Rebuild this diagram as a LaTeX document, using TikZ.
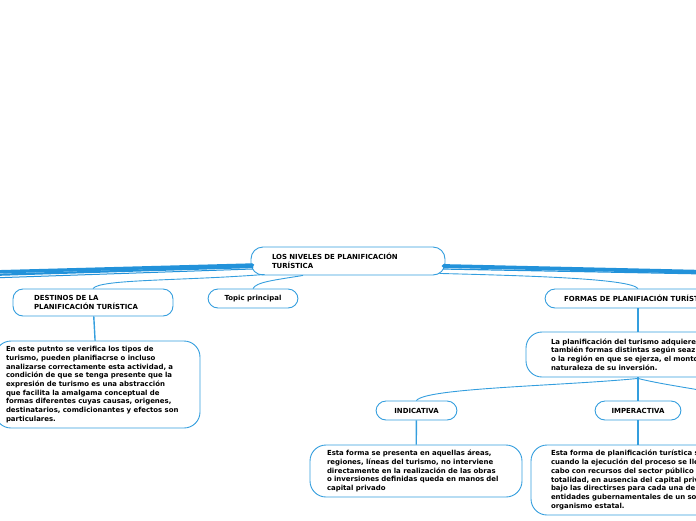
\documentclass[tikz,border=0pt]{standalone}
\usepackage{fontspec}
\setmainfont{DejaVu Sans}
\usetikzlibrary{calc}

\definecolor{mapblue}{RGB}{52,158,222}
\definecolor{trunkblue}{RGB}{34,146,218}

\begin{document}
\begin{tikzpicture}[
    x=1pt, y=-1pt,
    every node/.style={font=\bfseries\fontsize{6.95}{8.7}\selectfont},
    topic/.style={draw=mapblue, line width=0.9pt, fill=white, rounded corners=10pt, inner ysep=0pt, minimum height=19},
    note/.style={topic, rounded corners=16pt, align=left},
    link/.style={draw=mapblue, line width=0.9pt},
    drop/.style={draw=mapblue, line width=1.4pt},
    trunk/.style={draw=trunkblue, line cap=round}
]
\useasboundingbox (0,0) rectangle (696,520);
\clip (0,0) rectangle (696,520);

% ============ OFF-PAGE ENDS ============
\coordinate (offL1) at (-10,272);
\coordinate (offL2) at (-10,275);
\coordinate (offL3) at (-10,278);
\coordinate (offR1) at (710,272);
\coordinate (offR2) at (710,274);
\coordinate (offR3) at (710,392);

% ============ CENTRAL TOPIC ============
\node[topic, rounded corners=12pt, minimum height=28, text width=152, inner xsep=21, align=left] (center) at (348,261)
    {LOS NIVELES DE PLANIFICACIÓN\\TURÍSTICA};

% Trunks to the hidden topics
\draw[trunk, line width=3.4pt] ($(center.west)+(2,4)$) -- (offL1);
\draw[trunk, line width=2.2pt] ($(center.west)+(2,6)$) -- (offL2);
\draw[trunk, line width=1pt] ($(center.west)+(2,8)$) -- (offL3);
\draw[trunk, line width=3.8pt] ($(center.east)+(-2,5)$) -- (offR1);
\draw[trunk, line width=1.2pt] ($(center.east)+(-2,8)$) -- (offR2);

% ============ MAIN BRANCHES ============
\node[topic, text width=118, inner xsep=21, minimum height=27, align=left] (dest) at (93,302.5)
    {DESTINOS DE LA\\PLANIFICACIÓN TURÍSTICA};
\node[topic, minimum width=90] (main) at (253,298.5) {Topic principal};
\node[topic, minimum width=186] (formas) at (638,298.5) {FORMAS DE PLANIFIACIÓN TURÍSTICA};

\draw[link] ($(center.south west)+(14,-1)$) .. controls (180,281) and (100,279) .. (dest.north);
\draw[link] ($(center.south)+(-45,0)$) .. controls (275,280) and (256,282) .. (main.north);
\draw[link] ($(center.south east)+(-6,-2)$) .. controls (540,276) and (630,279) .. (formas.north);

% ============ DESCRIPTIONS ============
\node[note, text width=183, inner xsep=11, minimum height=87] (destnote) at (97.5,384.5)
    {En este putnto se verifica los tipos de\\
     turismo, pueden planifiacrse o incluso\\
     analizarse correctamente esta actividad, a\\
     condición de que se tenga presente que la\\
     expresión de turismo es una abstracción\\
     que facilita la amalgama conceptual de\\
     formas diferentes cuyas causas, origenes,\\
     destinatarios, comdicionantes y efectos son\\
     particulares.};
\draw[drop] (dest) -- (destnote);

\node[note, text width=200, inner xsep=25, minimum height=45] (formasnote) at (651,354.5)
    {La planificación del turismo adquiere\\
     también formas distintas según seaz\\
     o la región  en que se ejerza, el monto\\
     naturaleza de su inversión.};
\draw[drop] (formas) -- (formas |- formasnote.north);

% ============ FORMS ============
\node[topic, minimum width=81] (indic) at (416.5,410.5) {INDICATIVA};
\node[topic, minimum width=86] (imper) at (638,410.5) {IMPERACTIVA};

\draw[link] ($(formas |- formasnote.south)+(0,1)$) .. controls (560,386) and (425,388) .. (indic.north);
\draw[drop] (formas |- formasnote.south) -- (imper);
\draw[link] ($(formas |- formasnote.south)+(0,1)$) .. controls (660,384) and (690,388) .. (offR3);

\node[note, text width=178, inner xsep=17, minimum height=52] (indicnote) at (416,471)
    {Esta forma se presenta en aquellas áreas,\\
     regiones, líneas del turismo, no interviene\\
     directamente en la realización de las obras\\
     o inversiones definidas queda en manos del\\
     capital privado};
\draw[drop] (indic) -- (indicnote);

\node[note, text width=200, inner xsep=20, minimum height=70] (impernote) at (651,480)
    {Esta forma de planificación turística se da\\
     cuando la ejecución del proceso se lleva a\\
     cabo con recursos del sector público en su\\
     totalidad, en ausencia del capital privado,\\
     bajo las directirses para cada una de las\\
     entidades gubernamentales de un solo\\
     organismo estatal.};
\draw[drop] (imper) -- (imper |- impernote.north);

\end{tikzpicture}
\end{document}
